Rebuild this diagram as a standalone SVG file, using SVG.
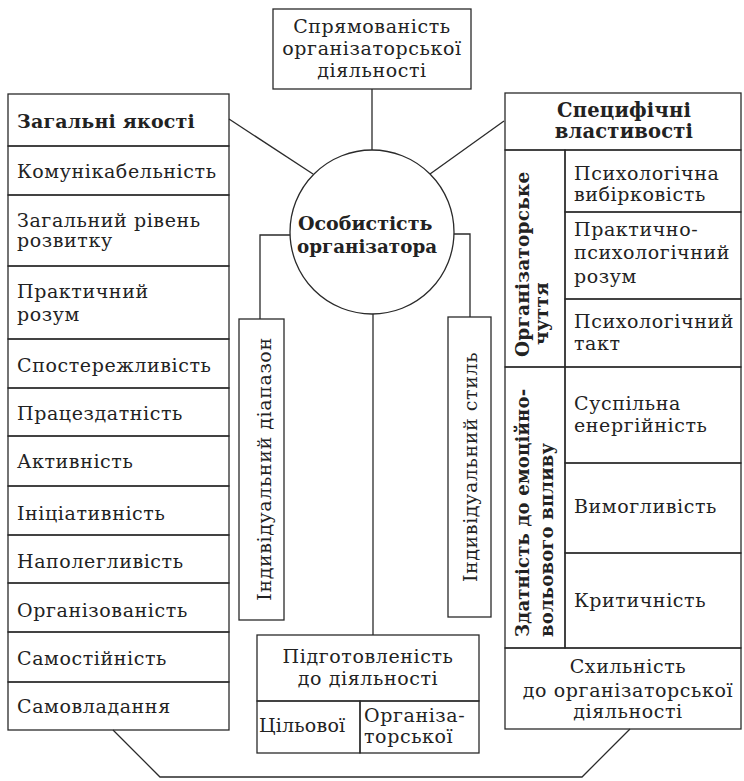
<svg xmlns="http://www.w3.org/2000/svg" width="744" height="781" viewBox="0 0 744 781">
<style>
  rect, circle { fill: none; stroke: #2a2a2a; stroke-width: 1.3; }
  .c line, .c polyline { fill: none; stroke: #2a2a2a; stroke-width: 1.3; }
  text { font-family: "DejaVu Serif", "Liberation Serif", serif; font-size: 19px; letter-spacing: 0.6px; fill: #222; }
  .b { font-weight: bold; letter-spacing: 0.2px; }
  .m { text-anchor: middle; }
</style>

<g id="napriam">
  <rect x="273" y="9" width="198" height="80"/>
  <text class="m" x="372" y="33">Спрямованість</text>
  <text class="m" x="372" y="55">організаторської</text>
  <text class="m" x="372" y="77">діяльності</text>
</g>

<g id="osobystist">
  <circle cx="372" cy="232" r="82"/>
  <text class="b" x="298" y="230" style="letter-spacing:0">Особистість</text>
  <text class="b" x="297" y="253" style="font-size:18.3px;letter-spacing:0">організатора</text>
</g>

<g id="zagalni">
  <rect x="8" y="94" width="221" height="52"/>
  <text class="b" x="17" y="128">Загальні якості</text>
  <rect x="8" y="146" width="221" height="49"/>
  <text x="17" y="178">Комунікабельність</text>
  <rect x="8" y="195" width="221" height="71"/>
  <text x="17" y="227">Загальний рівень</text>
  <text x="17" y="247">розвитку</text>
  <rect x="8" y="266" width="221" height="73"/>
  <text x="17" y="298">Практичний</text>
  <text x="17" y="321">розум</text>
  <rect x="8" y="339" width="221" height="49"/>
  <text x="17" y="372">Спостережливість</text>
  <rect x="8" y="388" width="221" height="48"/>
  <text x="17" y="420">Працездатність</text>
  <rect x="8" y="436" width="221" height="50"/>
  <text x="17" y="468">Активність</text>
  <rect x="8" y="486" width="221" height="49"/>
  <text x="17" y="520">Ініціативність</text>
  <rect x="8" y="535" width="221" height="48"/>
  <text x="17" y="568">Наполегливість</text>
  <rect x="8" y="583" width="221" height="49"/>
  <text x="17" y="617">Організованість</text>
  <rect x="8" y="632" width="221" height="50"/>
  <text x="17" y="665">Самостійність</text>
  <rect x="8" y="682" width="221" height="48"/>
  <text x="17" y="713">Самовладання</text>
</g>

<g id="specyfichni">
  <rect x="505" y="93" width="236" height="57"/>
  <text class="m b" x="624" y="117" style="font-size:19.5px">Специфічні</text>
  <text class="m b" x="624" y="138" style="font-size:19.5px">властивості</text>
  <rect x="505" y="150" width="60" height="217"/>
  <text class="b" transform="translate(529,357) rotate(-90)" style="font-size:18.5px">Організаторське</text>
  <text class="b" transform="translate(548,345) rotate(-90)" style="font-size:18.5px">чуття</text>
  <rect x="505" y="367" width="60" height="281"/>
  <text class="b" transform="translate(529,637) rotate(-90)" style="font-size:18px">Здатність до емоційно-</text>
  <text class="b" transform="translate(553,637) rotate(-90)" style="font-size:18px">вольового впливу</text>
  <rect x="565" y="150" width="176" height="62"/>
  <text x="574" y="180">Психологічна</text>
  <text x="574" y="201">вибірковість</text>
  <rect x="565" y="212" width="176" height="87"/>
  <text x="574" y="236">Практично-</text>
  <text x="574" y="259">психологічний</text>
  <text x="574" y="283">розум</text>
  <rect x="565" y="299" width="176" height="68"/>
  <text x="574" y="328">Психологічний</text>
  <text x="574" y="350">такт</text>
  <rect x="565" y="367" width="176" height="96"/>
  <text x="574" y="410">Суспільна</text>
  <text x="574" y="432">енергійність</text>
  <rect x="565" y="463" width="176" height="90"/>
  <text x="574" y="513">Вимогливість</text>
  <rect x="565" y="553" width="176" height="95"/>
  <text x="574" y="607">Критичність</text>
  <rect x="505" y="648" width="236" height="81"/>
  <text class="m" x="628" y="673">Схильність</text>
  <text class="m" x="628" y="697">до організаторської</text>
  <text class="m" x="628" y="718">діяльності</text>
</g>

<g id="diapazon">
  <rect x="239" y="319" width="45" height="301"/>
  <text class="m" transform="translate(271,469) rotate(-90)">Індивідуальний діапазон</text>
</g>

<g id="styl">
  <rect x="448" y="317" width="43" height="300"/>
  <text class="m" transform="translate(477,467) rotate(-90)">Індивідуальний стиль</text>
</g>

<g id="pidgotovlenist">
  <rect x="257" y="635" width="222" height="66"/>
  <text class="m" x="368" y="663">Підготовленість</text>
  <text class="m" x="368" y="685">до діяльності</text>
  <rect x="257" y="701" width="103" height="52"/>
  <text x="259" y="732" style="letter-spacing:0.2px">Цільової</text>
  <rect x="360" y="701" width="119" height="52"/>
  <text x="364" y="722">Організа-</text>
  <text x="364" y="743">торської</text>
</g>

<g class="c" id="connectors">
  <line x1="372" y1="89" x2="372" y2="150"/>
  <line x1="229" y1="119" x2="313" y2="174"/>
  <line x1="504" y1="121" x2="430" y2="174"/>
  <polyline points="290,235 260,235 260,319"/>
  <polyline points="454,234 470,234 470,317"/>
  <line x1="373" y1="314" x2="373" y2="635"/>
  <polyline points="113,730 160,777 582,777 630,729"/>
</g>
</svg>
